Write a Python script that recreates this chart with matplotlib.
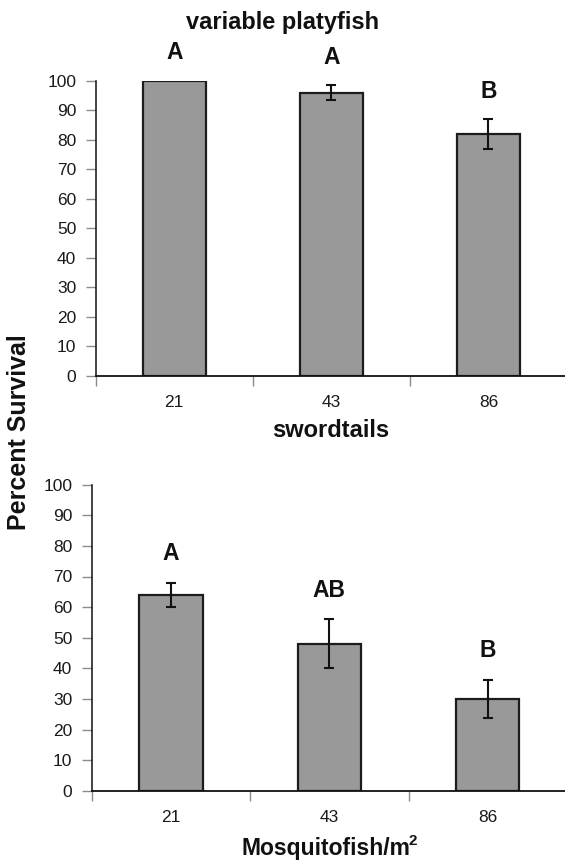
import matplotlib
matplotlib.use("Agg")
import matplotlib.pyplot as plt
import numpy as np

plt.rcParams['font.family'] = ['Liberation Sans', 'DejaVu Sans']

categories = ["21", "43", "86"]
top_values = [100, 96, 82]
top_errors = [0, 2.5, 5]
top_letters = ["A", "A", "B"]
bottom_values = [64, 48, 30]
bottom_errors = [4, 8, 6.3]
bottom_letters = ["A", "AB", "B"]
yticks = list(range(0, 101, 10))

W, H = 565, 861
fig = plt.figure(figsize=(W / 100, H / 100), dpi=100)

def px_axes(left, right, top, bottom):
    return fig.add_axes([left / W, 1 - bottom / H, (right - left) / W, (bottom - top) / H])

ax_top = px_axes(95.7, 567, 81, 376)
ax_bot = px_axes(91.7, 567, 484.7, 790.7)

bar_color = "#999999"
edge_color = "#1c1c1c"
tick_gray = "#8c8c8c"

def draw(ax, values, errors, letters):
    x = np.arange(len(values))
    ax.bar(x, values, width=0.40, color=bar_color, edgecolor=edge_color,
           linewidth=1.6, zorder=2)
    errs = [e if e > 0 else np.nan for e in errors]
    ax.errorbar(x, values, yerr=errs, fmt="none", ecolor="#111111",
                elinewidth=1.5, capsize=3.3, capthick=1.5, zorder=3)
    for xi, v, e, lab in zip(x, values, errors, letters):
        ax.text(xi, v + e + 9.5, lab, ha="center", va="center",
                fontsize=16.5, fontweight="bold", color="#111111",
                clip_on=False)
    ax.set_xlim(-0.5, len(values) - 0.5)
    ax.set_ylim(0, 100)
    ax.set_yticks(yticks)
    ax.set_yticklabels([str(t) for t in yticks], fontsize=12.5, color="#1a1a1a")
    ax.tick_params(axis="y", direction="out", length=7, width=1.0,
                   color=tick_gray, pad=7)
    ax.set_xticks(np.arange(-0.5, len(values) - 0.5, 1.0))
    ax.set_xticklabels([])
    ax.set_xticks(x, minor=True)
    ax.set_xticklabels(categories, minor=True, fontsize=12.5, color="#1a1a1a")
    ax.tick_params(axis="x", which="major", direction="out", length=7,
                   width=1.0, color=tick_gray)
    ax.tick_params(axis="x", which="minor", length=0, pad=14)
    for s in ["top", "right"]:
        ax.spines[s].set_visible(False)
    ax.spines["left"].set_color("#111111")
    ax.spines["left"].set_linewidth(1.1)
    ax.spines["bottom"].set_color("#111111")
    ax.spines["bottom"].set_linewidth(1.3)
    ax.set_facecolor("none")

draw(ax_top, top_values, top_errors, top_letters)
draw(ax_bot, bottom_values, bottom_errors, bottom_letters)

def ftext(x, y, s, **kw):
    return fig.text(x / W, 1 - y / H, s, **kw)

ftext(282.5, 29, "variable platyfish", ha="center", va="baseline",
      fontsize=17, fontweight="bold", color="#111111")
ftext(331, 436.7, "swordtails", ha="center", va="baseline",
      fontsize=17, fontweight="bold", color="#111111")
main = ftext(326, 855, "Mosquitofish/m", ha="center", va="baseline",
             fontsize=16.5, fontweight="bold", color="#111111")
fig.canvas.draw()
bb = main.get_window_extent(renderer=fig.canvas.get_renderer())
fig.text((bb.x1 - 1.5) / W, (H - 845) / H, "2", ha="left", va="baseline",
         fontsize=11, fontweight="bold", color="#111111")
ftext(19, 432, "Percent Survival", ha="center", va="center", rotation=90,
      fontsize=18, fontweight="bold", color="#111111")

fig.savefig("out.png", dpi=100, facecolor="white")
